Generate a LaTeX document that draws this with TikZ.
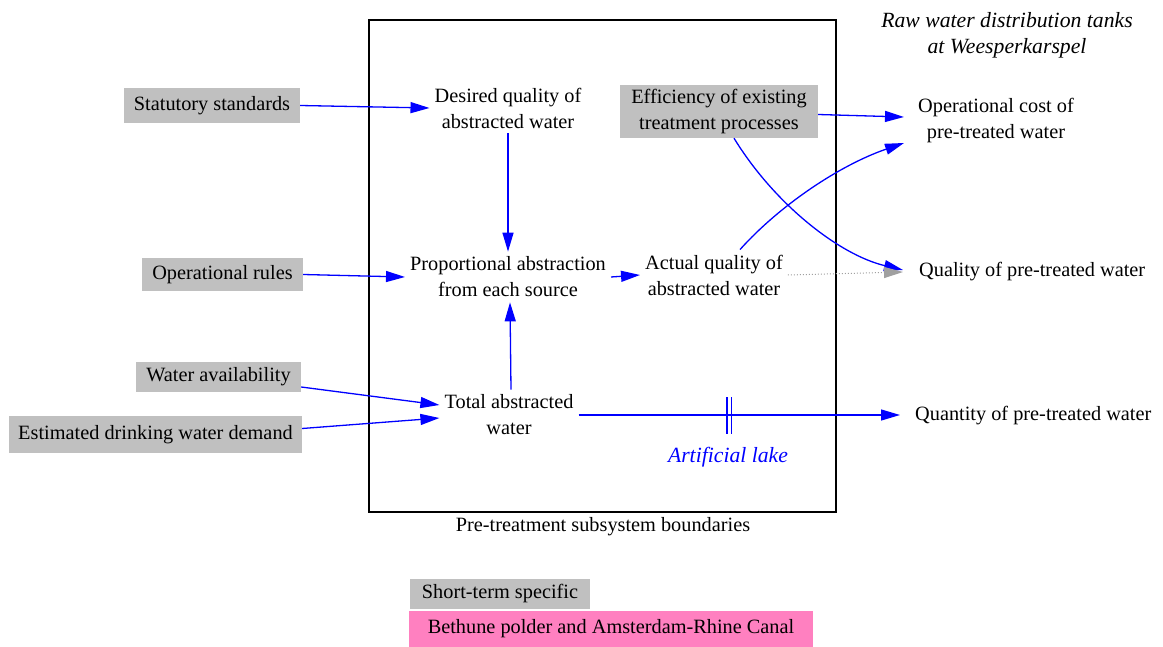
\documentclass[tikz,border=0pt]{standalone}
\usepackage{fontspec}
\setmainfont{Liberation Serif}
\usetikzlibrary{arrows.meta,calc}
\definecolor{extgray}{HTML}{C0C0C0}
\definecolor{pinkbox}{HTML}{FF80C0}
\definecolor{tipgray}{HTML}{A0A0A0}
\newcommand\dgmfont{\fontsize{20.3}{26}\selectfont}
\newcommand\notefont{\fontsize{21.7}{26}\selectfont\itshape}
\begin{document}
\begin{tikzpicture}[x=1pt,y=-1pt,
  every node/.style={font=\dgmfont, align=center},
  var/.style={inner sep=5pt},
  ext/.style={fill=extgray, inner sep=0pt},
  link/.style={draw=blue, line width=1.3pt, -{Triangle[length=19pt,width=11pt]}},
  weaklink/.style={draw=tipgray, dotted, line width=1pt, -{Triangle[length=19pt,width=11pt,fill=tipgray]}},
  note/.style={font=\notefont}]
\useasboundingbox (0,0) rectangle (1163,647);

% subsystem boundary
\draw[line width=1.2pt] (369,20) rectangle (836,512);
\node (bound) at (603,527) {Pre-treatment subsystem boundaries};

% exogenous inputs
\node[ext, minimum width=176pt, minimum height=35pt] (stat) at (212,105.5) {Statutory standards};
\node[ext, minimum width=161pt, minimum height=33pt] (oprules) at (222.5,274.5) {Operational rules};
\node[ext, minimum width=165pt, minimum height=30pt] (avail) at (218.5,377) {Water availability};
\node[ext, minimum width=293pt, minimum height=37pt] (demand) at (155.5,434.5) {Estimated drinking water demand};
\node[ext, minimum width=198pt, minimum height=53pt] (eff) at (719,111.5) {Efficiency of existing\\treatment processes};

% internal variables
\node[var] (desired) at (508,108) {Desired quality of\\abstracted water};
\node[var] (prop) at (508,277) {Proportional abstraction\\from each source};
\node[var] (actual) at (714,275) {Actual quality of\\abstracted water};
\node[var] (total) at (509,415) {Total abstracted\\water};

% outputs
\node[var, inner xsep=14pt] (opcost) at (996,121) {Operational cost of\\pre-treated water};
\node[var, anchor=west, inner xsep=16pt] (quality) at (903,272) {Quality of pre-treated water};
\node[var, anchor=west, inner xsep=15pt] (qty) at (900,416) {Quantity of pre-treated water};
\node[note] (tanks) at (1007,35) {Raw water distribution tanks\\at Weesperkarspel};

% causal links
\draw[link] (stat.east) -- (desired.west);
\draw[link] (desired.south) -- (prop.north);
\draw[link] (oprules.east) -- (prop.west);
\draw[link] (prop.east) -- (actual.west);
\draw[link] ([xshift=2pt]total.north) -- ([xshift=2pt]prop.south);
\draw[link] ($(avail.east)+(0,10)$) -- ($(total.west)+(0,-10)$);
\draw[link] ($(demand.east)+(0,-6)$) -- ($(total.west)+(0,3)$);
\draw[link] (total.east) -- ($(qty.west)+(0,-1)$);
\draw[link] ($(eff.east)+(0,3)$) -- ($(opcost.west)+(0,-4)$);
\draw[link] ($(eff.south)+(15,0)$) .. controls (775,205) and (840,255) .. ($(quality.west)+(0,-2)$);
\draw[link] ($(actual.north)+(26,0)$) .. controls (780,205) and (840,165) .. ($(opcost.west)+(0,22)$);
\draw[weaklink] (actual.east) -- (quality.west);

% delay on the flow through the lake
\draw[blue, line width=1.2pt] (727,397) -- (727,434) (731.5,397) -- (731.5,434);
\node[note, text=blue] (lake) at (728,457) {Artificial lake};

% legend
\node[ext, minimum width=180pt, minimum height=30pt] (short) at (500,594) {Short-term specific};
\node[fill=pinkbox, inner sep=0pt, minimum width=404pt, minimum height=36pt] (canal) at (611,629) {Bethune polder and Amsterdam-Rhine Canal};
\end{tikzpicture}
\end{document}
